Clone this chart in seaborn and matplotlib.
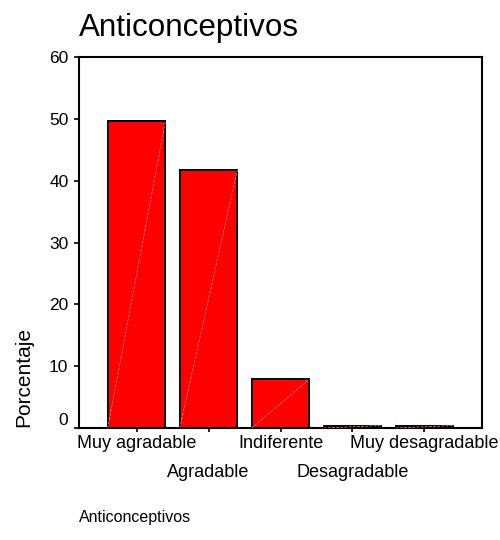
import matplotlib
matplotlib.use("Agg")
import matplotlib.pyplot as plt
import seaborn as sns
import pandas as pd

# Data
categorias = ["Muy agradable", "Agradable", "Indiferente", "Desagradable", "Muy desagradable"]
porcentaje = [49.6, 41.7, 7.9, 0.4, 0.4]

df = pd.DataFrame({"categoria": categorias, "porcentaje": porcentaje})

sns.set_style("ticks")
plt.rcParams["font.family"] = ["Liberation Sans", "DejaVu Sans"]
plt.rcParams["text.color"] = "black"
plt.rcParams["axes.labelcolor"] = "black"

fig = plt.figure(figsize=(5, 5.4), dpi=100)
ax = fig.add_axes([0.158, 0.2074, 0.806, 0.687])

sns.barplot(data=df, x="categoria", y="porcentaje", color="#ff0000",
            saturation=1, edgecolor="black", linewidth=1.4, width=0.8, ax=ax)

# faint diagonal streaks inside each bar
for p in ax.patches:
    x0, y0 = p.get_x(), p.get_y()
    ax.plot([x0, x0 + p.get_width()], [y0, y0 + p.get_height()],
            color="#ff9a9a", lw=0.5, ls=(0, (4, 2)), zorder=3)

ax.set_xlim(-0.8, 4.8)
ax.set_ylim(0, 60)
ax.set_yticks(range(0, 61, 10))

for s in ax.spines.values():
    s.set_visible(True)
    s.set_color("black")
    s.set_linewidth(1.5)

ax.tick_params(axis="y", length=3.6, width=1.2, pad=4, labelsize=12.5, colors="black")
ax.tick_params(axis="x", length=3, width=1.2, pad=2, labelsize=13, colors="black")

# alternate x tick labels on two rows
for i, t in enumerate(ax.xaxis.get_major_ticks()):
    if i % 2 == 1:
        t.set_pad(23)

ax.get_yticklabels()[0].set_va("bottom")

ax.set_title("Anticonceptivos", loc="left", fontsize=22.6, pad=15, color="black")

ax.set_ylabel("Porcentaje", fontsize=15)
ax.yaxis.set_label_coords(-0.114, 0.137)

ax.set_xlabel("Anticonceptivos", fontsize=11.5, ha="left")
ax.xaxis.set_label_coords(0.0, -0.221)

fig.savefig("out.png", dpi=100)
